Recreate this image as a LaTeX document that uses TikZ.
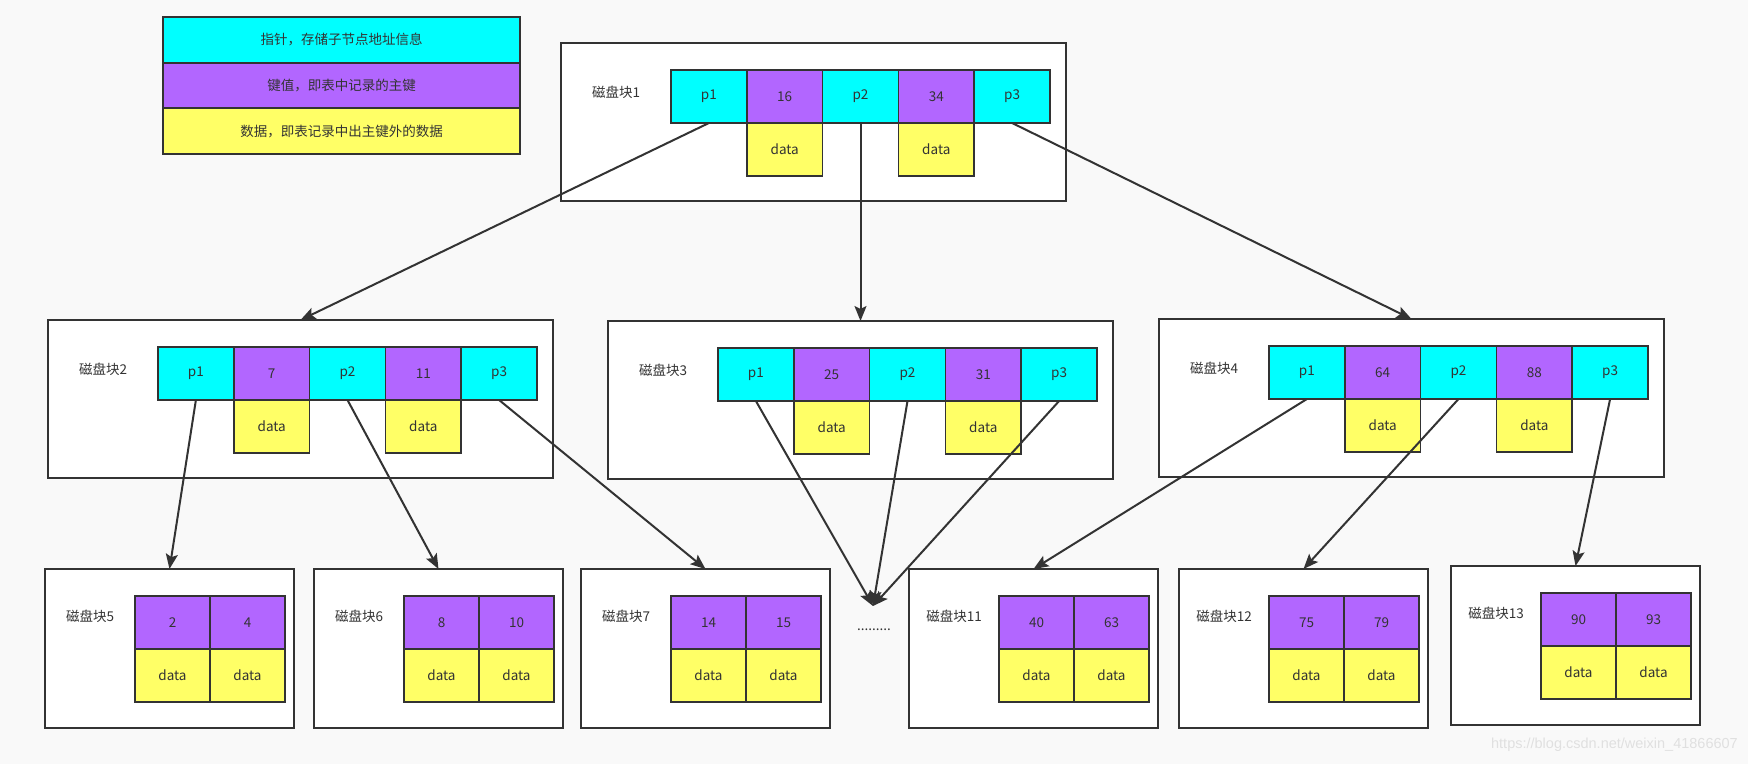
\documentclass[tikz,border=0pt]{standalone}
\usepackage{fontspec}
\setmainfont{Noto Sans CJK SC}
\newfontfamily\wmfont{Liberation Sans}
\usetikzlibrary{arrows.meta}
\definecolor{ccyan}{HTML}{00FFFF}
\definecolor{cpurple}{HTML}{B266FF}
\definecolor{cyellow}{HTML}{FFFF66}
\definecolor{cline}{HTML}{333333}
\definecolor{cbg}{HTML}{F9F9F9}
\definecolor{cwm}{HTML}{E0E0E0}
\tikzset{
  txt/.style={text=cline, font=\fontsize{13.5}{16}\selectfont},
  cellbase/.style={txt, draw=cline, line width=1.6pt, rectangle, anchor=north west, inner sep=0pt, outer sep=0pt},
  ptrcell/.style={cellbase, fill=ccyan, minimum width=75.8pt, minimum height=53pt},
  keycell/.style={cellbase, fill=cpurple, minimum width=75.8pt, minimum height=53pt},
  datcell/.style={cellbase, fill=cyellow, minimum width=75.8pt, minimum height=53pt},
  lkeycell/.style={cellbase, fill=cpurple, minimum width=75pt, minimum height=53pt},
  ldatcell/.style={cellbase, fill=cyellow, minimum width=75pt, minimum height=53pt},
  blockbox/.style={draw=cline, line width=1.8pt, fill=white, rectangle, anchor=north west, inner sep=0pt, outer sep=0pt},
  blabel/.style={txt},
  legrow/.style={cellbase, line width=2pt, minimum width=357pt, minimum height=45.7pt},
  arr/.style={draw=cline, line width=2pt, -{Stealth[length=15pt,width=12pt,inset=3pt]}}
}
\newcommand\innerblk[6]{%
  \node[blockbox, minimum width=505pt, minimum height=158pt] (#1) at (#2,#3) {};
  \node[blabel] (#1lab) at ({#2+55},{#3+49}) {磁盘块#4};
  \node[ptrcell] (#1p1) at ({#2+110},{#3+27}) {p1};
  \node[keycell] (#1k1) at ({#2+185.8},{#3+27}) {#5};
  \node[ptrcell] (#1p2) at ({#2+261.6},{#3+27}) {p2};
  \node[keycell] (#1k2) at ({#2+337.4},{#3+27}) {#6};
  \node[ptrcell] (#1p3) at ({#2+413.2},{#3+27}) {p3};
  \node[datcell] (#1d1) at ({#2+185.8},{#3+80}) {data};
  \node[datcell] (#1d2) at ({#2+337.4},{#3+80}) {data};
}
\newcommand\leafblk[6]{%
  \node[blockbox, minimum width=249pt, minimum height=159pt] (#1) at (#2,#3) {};
  \node[blabel] (#1lab) at ({#2+45},{#3+47}) {磁盘块#4};
  \node[lkeycell] (#1k1) at ({#2+90},{#3+27}) {#5};
  \node[lkeycell] (#1k2) at ({#2+165},{#3+27}) {#6};
  \node[ldatcell] (#1d1) at ({#2+90},{#3+80}) {data};
  \node[ldatcell] (#1d2) at ({#2+165},{#3+80}) {data};
}
\begin{document}
\begin{tikzpicture}[x=1pt,y=-1pt]
\fill[cbg] (0,0) rectangle (1748,764);
\useasboundingbox (0,0) rectangle (1748,764);
% legend
\node[legrow, fill=ccyan] (leg1) at (163,17) {指针，存储子节点地址信息};
\node[legrow, fill=cpurple] (leg2) at (163,62.7) {键值，即表中记录的主键};
\node[legrow, fill=cyellow] (leg3) at (163,108.4) {数据，即表记录中出主键外的数据};
% internal blocks
\innerblk{b1}{561}{43}{1}{16}{34}
\innerblk{b2}{48}{320}{2}{7}{11}
\innerblk{b3}{608}{321}{3}{25}{31}
\innerblk{b4}{1159}{319}{4}{64}{88}
% leaves
\leafblk{b5}{45}{569}{5}{2}{4}
\leafblk{b6}{314}{569}{6}{8}{10}
\leafblk{b7}{581}{569}{7}{14}{15}
\leafblk{b11}{909}{569}{11}{40}{63}
\leafblk{b12}{1179}{569}{12}{75}{79}
\leafblk{b13}{1451}{566}{13}{90}{93}
% dots
\coordinate (conv) at (873,606);
\node[txt, inner sep=0pt] (dots) at (874,630) {.........};
% connectors
\draw[arr] (b1p1.south) -- (b2.north);
\draw[arr] (b1p2.south) -- (b3.north);
\draw[arr] (b1p3.south) -- (b4.north);
\draw[arr] (b2p1.south) -- (b5.north);
\draw[arr] (b2p2.south) -- (b6.north);
\draw[arr] (b2p3.south) -- (b7.north);
\draw[arr] (b3p1.south) -- (conv);
\draw[arr] (b3p2.south) -- (conv);
\draw[arr] (b3p3.south) -- (conv);
\draw[arr] (b4p1.south) -- (b11.north);
\draw[arr] (b4p2.south) -- (b12.north);
\draw[arr] (b4p3.south) -- (b13.north);
% watermark
\node[text=cwm, font=\wmfont\fontsize{14.5}{17}\selectfont, anchor=east, inner sep=0pt] (wm) at (1738,745) {https://blog.csdn.net/weixin\_41866607};
\end{tikzpicture}
\end{document}
